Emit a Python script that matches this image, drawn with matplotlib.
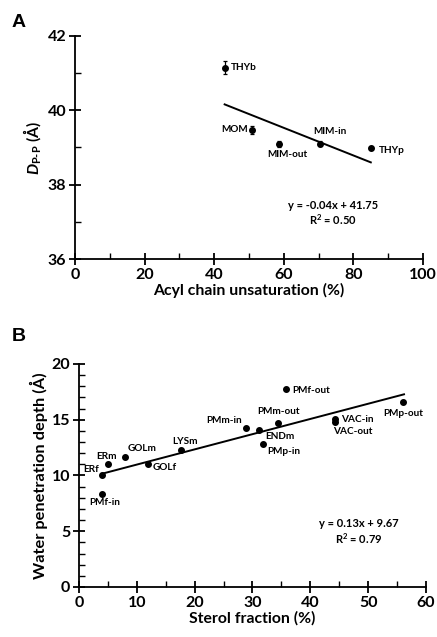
import matplotlib
matplotlib.use('Agg')
import matplotlib.pyplot as plt
from matplotlib.ticker import MultipleLocator

# Panel A data
a_names = ['THYb', 'MOM', 'MIM-out', 'MIM-in', 'THYp']
a_x = [43, 51, 58.7, 70.5, 85]
a_y = [41.15, 39.47, 39.10, 39.10, 38.98]
a_err = [0.17, 0.11, 0.08, 0.07, 0.03]
a_fit_x = [43, 85]
a_fit_y = [40.16, 38.60]

# Panel B data
b_names = ['ERf', 'PMf-in', 'ERm', 'GOLm', 'GOLf', 'LYSm', 'PMm-in', 'ENDm',
           'PMm-out', 'PMp-in', 'PMf-out', 'VAC-in', 'VAC-out', 'PMp-out']
b_x = [4.0, 4.0, 5.0, 8.0, 11.9, 17.6, 28.9, 31.2, 34.4, 31.9, 35.8, 44.3, 44.3, 56.1]
b_y = [10.01, 8.37, 11.06, 11.69, 11.06, 12.29, 14.26, 14.11, 14.74, 12.80, 17.73,
       15.10, 14.83, 16.59]
b_fit_x = [4.0, 56.2]
b_fit_y = [10.16, 17.28]

plt.rcParams['font.family'] = ['Lato', 'DejaVu Sans']
plt.rcParams['font.weight'] = 'bold'
plt.rcParams['mathtext.fontset'] = 'custom'
plt.rcParams['mathtext.rm'] = 'Lato:bold'
plt.rcParams['mathtext.it'] = 'Lato:italic:bold'

fig = plt.figure(figsize=(4.37, 6.37), dpi=100)
axA = fig.add_axes([0.1716, 0.5934, 0.7964, 0.3501])
axB = fig.add_axes([0.1808, 0.0785, 0.7940, 0.3501])

LBL = 7.2   # point labels
EQ = 8.0    # fit equations


def style_axes(ax):
    for s in ['top', 'right']:
        ax.spines[s].set_visible(False)
    for s in ['left', 'bottom']:
        ax.spines[s].set_linewidth(1.3)
    ax.tick_params(which='major', direction='inout', length=8.5, width=1.3,
                   labelsize=11.5, pad=2)
    ax.tick_params(which='minor', direction='in', length=4, width=1.0)
    for lab in ax.get_xticklabels() + ax.get_yticklabels():
        lab.set_fontweight('bold')


# ---- Panel A ----
axA.errorbar(a_x, a_y, yerr=a_err, fmt='o', color='black', markersize=4,
             elinewidth=0.9, capsize=1.5, capthick=0.9)
axA.plot(a_fit_x, a_fit_y, color='black', linewidth=1.4)
axA.set_xlim(0, 100)
axA.set_ylim(36, 42)
axA.xaxis.set_major_locator(MultipleLocator(20))
axA.xaxis.set_minor_locator(MultipleLocator(10))
axA.yaxis.set_major_locator(MultipleLocator(2))
axA.yaxis.set_minor_locator(MultipleLocator(1))
style_axes(axA)
axA.set_xlabel('Acyl chain unsaturation (%)', fontsize=11.3, fontweight='bold', labelpad=1)
axA.set_ylabel(r'$D_{\text{P-P}}$ (Å)', fontsize=11.3, fontweight='bold', labelpad=3)

a_offsets = {'THYb': (6, 0, 'left'), 'MOM': (-5, 1, 'right'),
             'MIM-out': (8, -11, 'center'), 'MIM-in': (10, 12, 'center'),
             'THYp': (8, -2, 'left')}
for name, x, y in zip(a_names, a_x, a_y):
    dx, dy, ha = a_offsets[name]
    axA.annotate(name, (x, y), xytext=(dx, dy), textcoords='offset pixels',
                 ha=ha, va='center', fontsize=LBL, fontweight='bold')
axA.text(0.741, 0.242, 'y = -0.04x + 41.75', transform=axA.transAxes,
         ha='center', va='center', fontsize=EQ, fontweight='bold')
axA.text(0.741, 0.175, r'R$^2$ = 0.50', transform=axA.transAxes,
         ha='center', va='center', fontsize=EQ, fontweight='bold')

# ---- Panel B ----
axB.plot(b_x, b_y, 'o', color='black', markersize=4)
axB.plot(b_fit_x, b_fit_y, color='black', linewidth=1.4)
axB.set_xlim(0, 60)
axB.set_ylim(0, 20)
axB.xaxis.set_major_locator(MultipleLocator(10))
axB.xaxis.set_minor_locator(MultipleLocator(5))
axB.yaxis.set_major_locator(MultipleLocator(5))
axB.yaxis.set_minor_locator(MultipleLocator(1))
style_axes(axB)
axB.set_xlabel('Sterol fraction (%)', fontsize=11.3, fontweight='bold', labelpad=1)
axB.set_ylabel('Water penetration depth (Å)', fontsize=11.8, fontweight='bold', labelpad=3)

b_offsets = {'ERf': (-3, 6, 'right'), 'PMf-in': (3, -9, 'center'),
             'ERm': (-1, 7, 'center'), 'GOLm': (2, 8, 'left'),
             'GOLf': (5, -4, 'left'), 'LYSm': (4, 8, 'center'),
             'PMm-in': (-4, 7, 'right'), 'ENDm': (6, -7, 'left'),
             'PMm-out': (1, 11, 'center'), 'PMp-in': (4, -7, 'left'),
             'PMf-out': (6, -1, 'left'), 'VAC-in': (6, -1, 'left'),
             'VAC-out': (-2, -10, 'left'), 'PMp-out': (0, -11, 'center')}
for name, x, y in zip(b_names, b_x, b_y):
    dx, dy, ha = b_offsets[name]
    axB.annotate(name, (x, y), xytext=(dx, dy), textcoords='offset pixels',
                 ha=ha, va='center', fontsize=LBL, fontweight='bold')
axB.text(0.805, 0.283, 'y = 0.13x + 9.67', transform=axB.transAxes,
         ha='center', va='center', fontsize=EQ, fontweight='bold')
axB.text(0.805, 0.215, r'R$^2$ = 0.79', transform=axB.transAxes,
         ha='center', va='center', fontsize=EQ, fontweight='bold')

# panel letters
fig.text(0.027, 0.965, 'A', fontsize=14, fontweight='bold', family='Liberation Sans',
         ha='left', va='center')
fig.text(0.027, 0.472, 'B', fontsize=14, fontweight='bold', family='Liberation Sans',
         ha='left', va='center')

fig.savefig('out.png', dpi=100, facecolor='white')
